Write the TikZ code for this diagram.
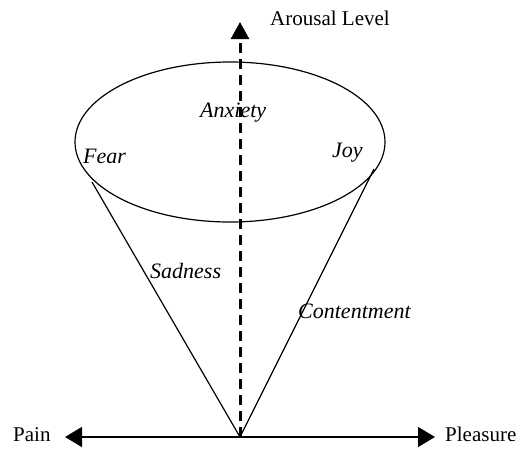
\documentclass[tikz,border=0pt]{standalone}
\usepackage{fontspec}
\setmainfont{Liberation Serif}
\usetikzlibrary{arrows.meta,shapes.geometric}
\begin{document}
\begin{tikzpicture}[x=1pt,y=-1pt,
  lbl/.style={inner sep=0pt,anchor=base west,font=\fontsize{21}{24}\selectfont},
  ilbl/.style={lbl,font=\fontsize{22}{25}\selectfont\itshape},
  axis/.style={line width=1.5pt,-{Triangle[length=17pt,width=20pt]}},
  thin line/.style={line width=1.2pt}]
\useasboundingbox (0,0) rectangle (531,448);
\coordinate (apex) at (240,437);
\coordinate (left) at (65,437);
\coordinate (right) at (435,437);
\coordinate (top) at (240,22);
\coordinate (cl) at (92,182);
\coordinate (cr) at (374,169);
\node[draw,ellipse,line width=1.2pt,minimum width=310pt,minimum height=160pt,inner sep=0pt] (ell) at (230,142) {};
\draw[thin line] (apex) -- (cl);
\draw[thin line] (apex) -- (cr);
\draw[axis] (apex) -- (left);
\draw[axis] (apex) -- (right);
\draw[line width=3pt,dash pattern=on 10pt off 6pt,-{Triangle[length=17pt,width=18pt]}] (apex) -- (top);
\node[lbl] (arousal) at (270,25) {Arousal Level};
\node[lbl] (pain) at (13,441) {Pain};
\node[lbl] (pleasure) at (445,441) {Pleasure};
\node[ilbl] (anxiety) at (200,117) {Anxiety};
\node[ilbl] (fear) at (83,163) {Fear};
\node[ilbl] (joy) at (332,157) {Joy};
\node[ilbl] (sadness) at (150,278) {Sadness};
\node[ilbl] (content) at (298,318) {Contentment};
\end{tikzpicture}
\end{document}
